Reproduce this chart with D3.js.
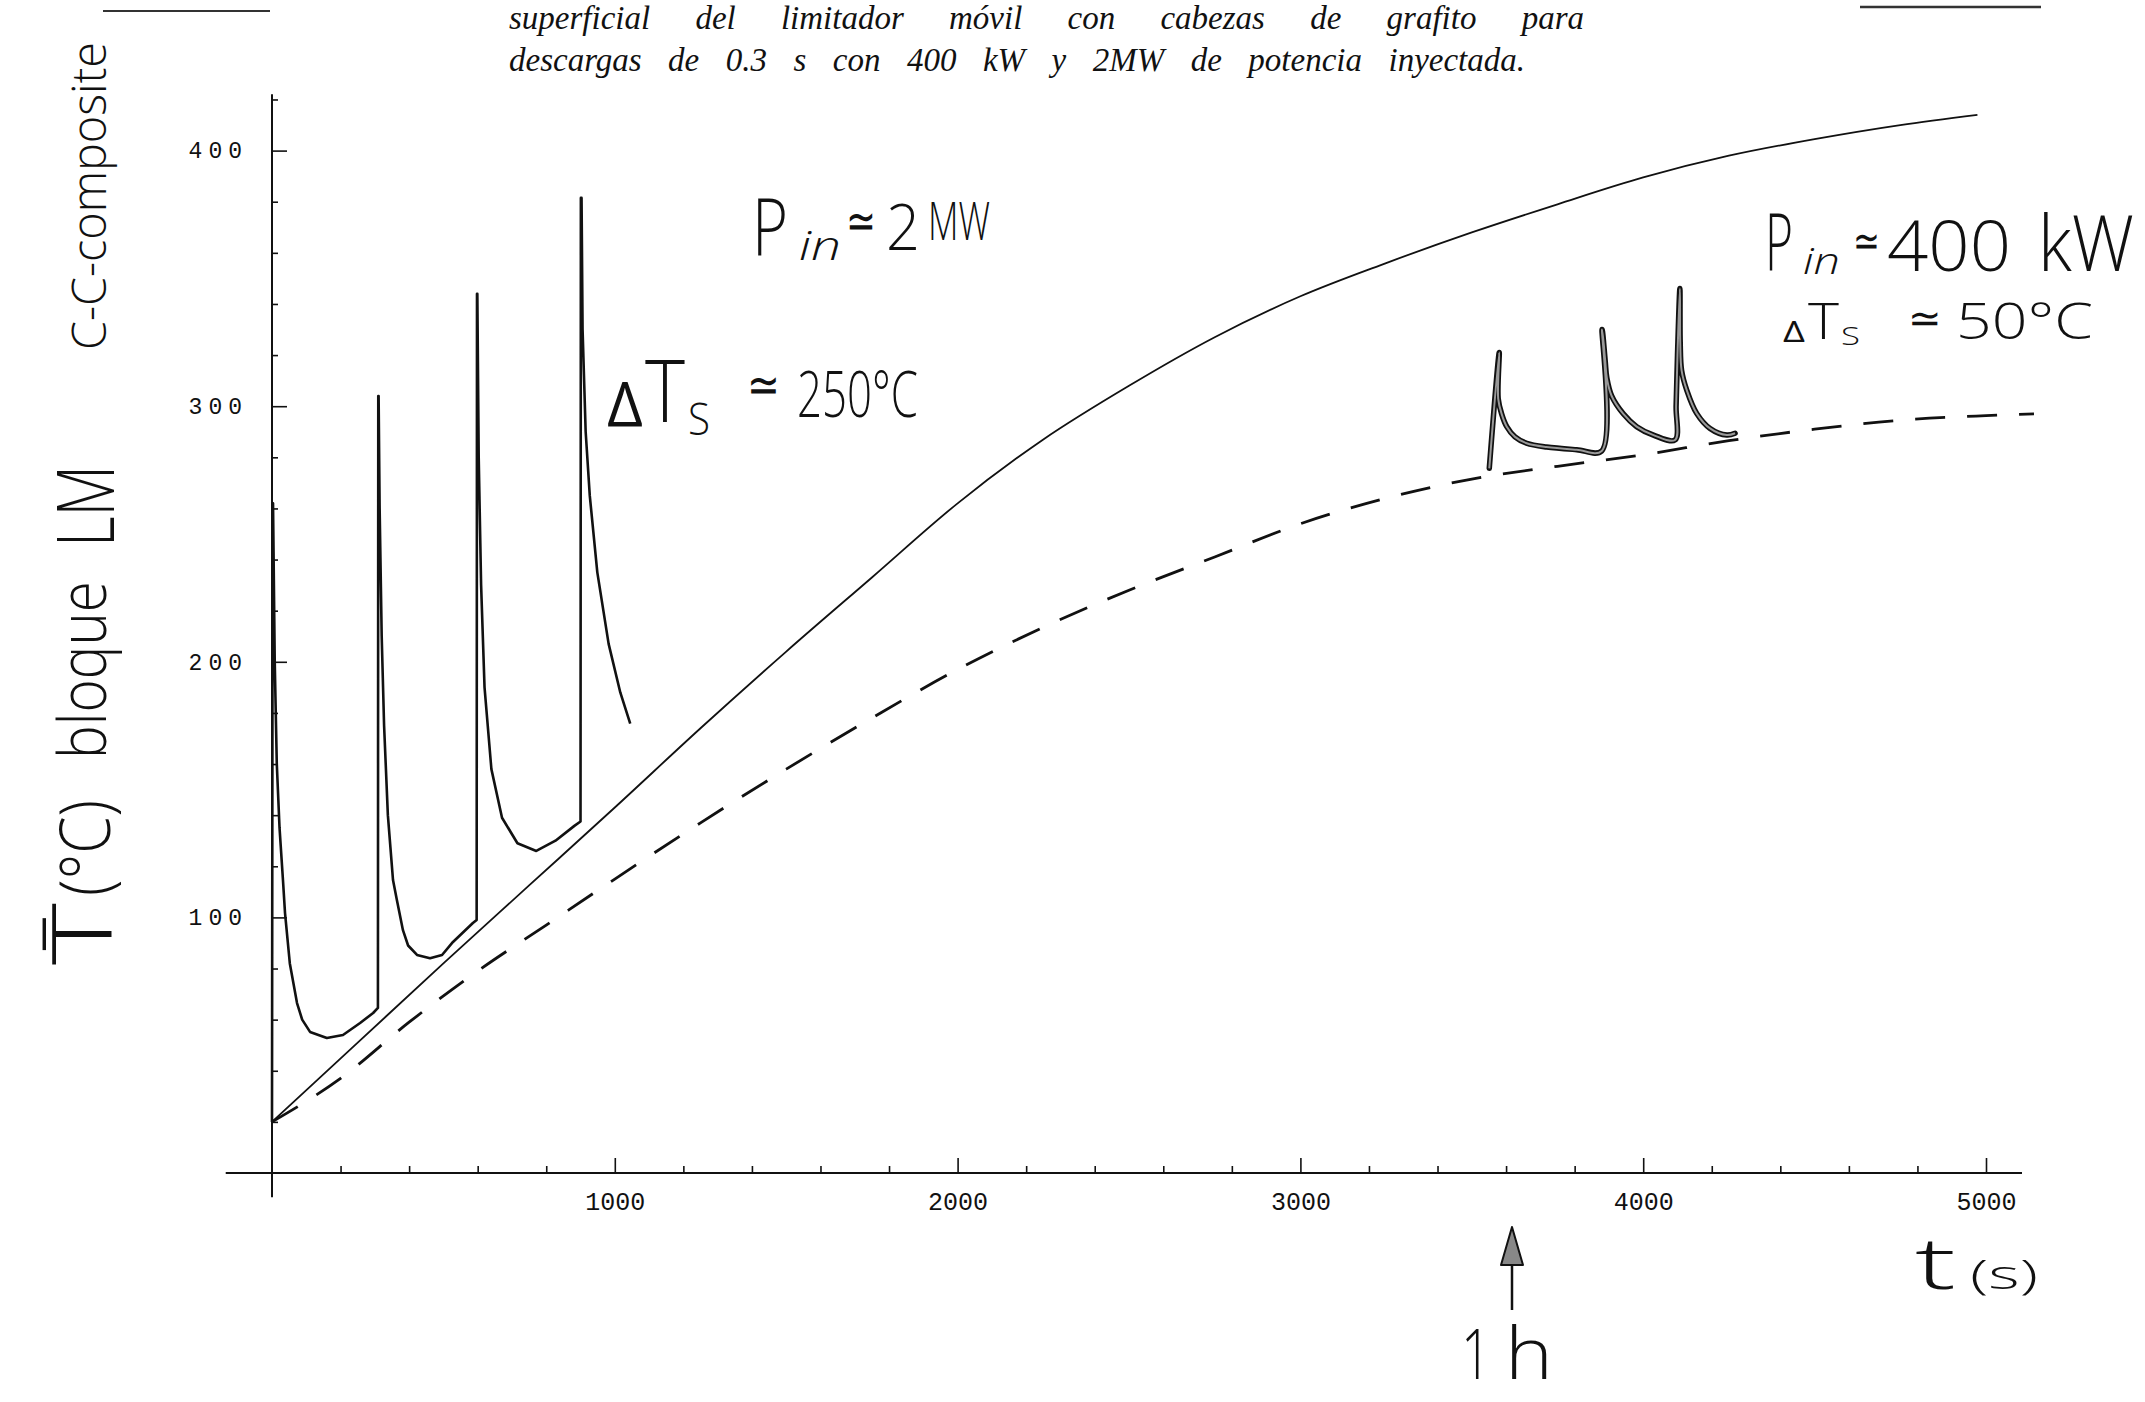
<!DOCTYPE html>
<html><head><meta charset="utf-8">
<script src="https://cdn.jsdelivr.net/npm/d3@7"></script>
<style>body{margin:0;background:#fff} svg{display:block;background:#fff}</style>
</head><body><svg id="chart" width="2145" height="1402"></svg>
<script>
// ---------- data ----------
const titleLines = [
  "superficial del limitador móvil con cabezas de grafito para",
  "descargas de 0.3 s con 400 kW y 2MW de potencia inyectada."
];
const xTickMajor = [1000, 2000, 3000, 4000, 5000];
const yTickMajor = [100, 200, 300, 400];

// smooth average-temperature curve (solid)
const solidT = [0, 250, 500, 750, 1000, 1250, 1500, 1750, 2000, 2250, 2500, 2750, 3000, 3250, 3500, 3750, 4000, 4250, 4500, 4750, 4975];
const solidV = [20, 51, 82, 112.5, 143, 174, 204, 233, 262, 287, 308, 327, 343, 356, 368, 379, 389.5, 398, 404.5, 410, 414];

// dashed curve
const dashT = [0, 200, 400, 600, 800, 1000, 1250, 1500, 1750, 2000, 2250, 2500, 2750, 3000, 3250, 3500, 3750, 4000, 4250, 4500, 4750, 5000, 5140];
const dashV = [20, 37, 59, 79, 97, 115, 137, 158, 178, 197, 213.5, 228, 241, 254, 264, 271.5, 276.5, 281, 286.5, 291, 294.5, 296.3, 297];

// surface temperature, 2 MW discharges (spiky curve)
const spikeT = [0, 2, 3, 8, 14, 22, 32, 38, 52, 73, 88, 111, 160, 207, 257, 295, 309,
  310, 311, 314, 320, 327, 338, 353, 364, 382, 397, 423, 461, 496, 528, 586, 597,
  598, 599, 603, 610, 620, 640, 671, 716, 771, 827, 882, 900,
  901, 903, 906, 915, 927, 949, 982, 1016, 1045];
const spikeV = [20, 262, 262, 200, 160, 135, 114.6, 101.7, 82, 66.5, 60, 55.2, 52.8, 54, 58.7, 62.6, 64.6,
  304, 304, 260, 210, 175, 140, 114.6, 107, 95, 89, 85.3, 84, 85.3, 90.4, 97.8, 99,
  344, 344, 280, 230, 190, 158, 139, 129, 126, 130, 135.8, 137.5,
  381.5, 381.5, 330, 290, 265, 235, 207, 188, 175.8];

// surface temperature, 400 kW discharges (hand drawn)
const lowT = [3551, 3580, 3577, 3587, 3602, 3626, 3660, 3718, 3806, 3879,
  3880, 3889, 3894, 3908, 3942, 3981, 4030, 4093,
  4096, 4100, 4107, 4108, 4112, 4127, 4156, 4195, 4244, 4268];
const lowV = [275.7, 321, 303, 297, 292, 288, 285.5, 284, 283, 282.5,
  330, 318, 311, 304, 297, 292, 288.7, 286.8,
  300, 320, 346, 325, 314, 306.3, 297.2, 291.3, 288.7, 289.4];

// ---------- drawing ----------
const svg = d3.select('#chart');
svg.append('rect').attr('width', 2145).attr('height', 1402).attr('fill', '#fff');

const x = d3.scaleLinear().domain([0, 5000]).range([272, 1986]);
const y = d3.scaleLinear().domain([0, 400]).range([1173, 150.6]);

// axes lines
svg.append('line').attr('x1', x(-135)).attr('x2', x(5105)).attr('y1', y(0)).attr('y2', y(0))
  .attr('stroke', '#111').attr('stroke-width', 2);
svg.append('line').attr('x1', x(0)).attr('x2', x(0)).attr('y1', y(422)).attr('y2', y(-9.5))
  .attr('stroke', '#111').attr('stroke-width', 2);

const minorX = d3.range(200, 5001, 200).filter(v => !xTickMajor.includes(v));
const minorY = d3.range(20, 421, 20).filter(v => !yTickMajor.includes(v));

const gxMinor = svg.append('g').attr('transform', `translate(0,${y(0)})`)
  .call(d3.axisBottom(x).tickValues(minorX).tickSize(-7).tickFormat(''));
const gxMajor = svg.append('g').attr('transform', `translate(0,${y(0)})`)
  .call(d3.axisBottom(x).tickValues(xTickMajor).tickSize(-15).tickPadding(19).tickFormat(d3.format('d')));
const gyMinor = svg.append('g').attr('transform', `translate(${x(0)},0)`)
  .call(d3.axisLeft(y).tickValues(minorY).tickSize(-6).tickFormat(''));
const gyMajor = svg.append('g').attr('transform', `translate(${x(0)},0)`)
  .call(d3.axisLeft(y).tickValues(yTickMajor).tickSize(-15).tickPadding(24).tickFormat(d3.format('d')));

[gxMinor, gxMajor, gyMinor, gyMajor].forEach(g => {
  g.select('.domain').remove();
  g.selectAll('.tick line').attr('stroke', '#111').attr('stroke-width', 1.6);
});
gxMajor.selectAll('.tick text').attr('font-family', '"Liberation Mono", "DejaVu Sans Mono", monospace')
  .attr('font-size', 25).attr('fill', '#111');
gyMajor.selectAll('.tick text').attr('font-family', '"Liberation Mono", "DejaVu Sans Mono", monospace')
  .attr('font-size', 23).attr('letter-spacing', 6).attr('fill', '#111');

// curves
const solidData = solidT.map((t, i) => [t, solidV[i]]);
const dashData = dashT.map((t, i) => [t, dashV[i]]);
const spikeData = spikeT.map((t, i) => [t, spikeV[i]]);
const lowData = lowT.map((t, i) => [t, lowV[i]]);

const lineMono = d3.line().x(d => x(d[0])).y(d => y(d[1])).curve(d3.curveMonotoneX);
const lineLin = d3.line().x(d => x(d[0])).y(d => y(d[1])).curve(d3.curveLinear);
const lineCR = d3.line().x(d => x(d[0])).y(d => y(d[1])).curve(d3.curveCatmullRom.alpha(0.5));

svg.append('path').datum(solidData).attr('d', lineMono)
  .attr('fill', 'none').attr('stroke', '#111').attr('stroke-width', 1.8);
svg.append('path').datum(dashData).attr('d', lineMono)
  .attr('fill', 'none').attr('stroke', '#111').attr('stroke-width', 2.8)
  .attr('stroke-dasharray', '30,22');
svg.append('path').datum(spikeData).attr('d', lineLin)
  .attr('fill', 'none').attr('stroke', '#111').attr('stroke-width', 2.6).attr('stroke-linejoin', 'round');
svg.append('path').datum(lowData).attr('d', lineCR)
  .attr('fill', 'none').attr('stroke', '#111').attr('stroke-width', 5.5).attr('stroke-linejoin', 'round').attr('stroke-linecap', 'round');
svg.append('path').datum(lowData).attr('d', lineCR)
  .attr('fill', 'none').attr('stroke', '#999').attr('stroke-width', 2).attr('stroke-linejoin', 'round');

// title text (justified)
const titleSpec = [{x: 509, y: 29, w: 1075}, {x: 509, y: 71, w: 1016}];
titleLines.forEach((s, i) => {
  const sp = titleSpec[i];
  const t = svg.append('text').attr('x', sp.x).attr('y', sp.y).text(s)
    .attr('font-family', '"Liberation Serif", "Times New Roman", serif')
    .attr('font-style', 'italic').attr('font-size', 33).attr('fill', '#111');
  const w = t.node().getComputedTextLength();
  const n = (s.match(/ /g) || []).length;
  t.attr('word-spacing', (sp.w - w) / n);
});

// short rules at top
svg.append('line').attr('x1', 103).attr('x2', 270).attr('y1', 11).attr('y2', 11).attr('stroke', '#333').attr('stroke-width', 2);
svg.append('line').attr('x1', 1860).attr('x2', 2041).attr('y1', 7).attr('y2', 7).attr('stroke', '#333').attr('stroke-width', 2.5);

// handwritten annotations: narrow glyphs via horizontal scaling so boxes match
const HW = '"Open Sans", "DejaVu Sans", sans-serif';
function hw(px, py, str, size, width, opts = {}) {
  const t = svg.append('text').attr('x', 0).attr('y', 0).text(str)
    .attr('font-family', HW).attr('font-weight', opts.weight || 300)
    .attr('font-size', size).attr('fill', '#111');
  if (opts.italic) t.attr('font-style', 'italic');
  const w = t.node().getComputedTextLength();
  const sx = w > 0 ? width / w : 1;
  const rot = opts.rotate ? ' rotate(-90)' : '';
  t.attr('transform', `translate(${px},${py})${rot} scale(${sx},1)`);
  return t;
}
// P_in ≃ 2MW
hw(752, 255, 'P', 80, 36);
hw(799, 260, 'in', 40, 42, {italic: true});
hw(846, 238, '≃', 50, 30);
hw(886, 250, '2', 64, 34);
hw(928, 240, 'MW', 54, 62);
// ΔT_S ≃ 250°C
hw(607, 427, 'Δ', 62, 36, {weight: 400});
hw(645, 422, 'T', 86, 40);
hw(688, 435, 'S', 44, 22);
hw(747, 402, '≃', 50, 33);
hw(797, 417, '250°C', 64, 121);
// P_in ≃ 400 kW
hw(1765, 270, 'P', 80, 28);
hw(1803, 274, 'in', 36, 37, {italic: true});
hw(1853, 256, '≃', 44, 27);
hw(1887, 271, '400', 70, 124);
hw(2038, 271, 'kW', 78, 96);
// ΔT_S ≃ 50°C
hw(1783, 342, 'Δ', 30, 22, {weight: 400});
hw(1808, 339, 'T', 50, 31);
hw(1841, 345, 'S', 26, 19);
hw(1908, 332, '≃', 40, 34);
hw(1956, 339, '50°C', 50, 137);
// t (s)
hw(1915, 1289, 't', 72, 41);
hw(1970, 1289, '(s)', 40, 68);
// 1h
hw(1461, 1379, '1', 70, 30);
hw(1505, 1379, 'h', 72, 48);
// arrow at 1 h
svg.append('line').attr('x1', 1512).attr('x2', 1512).attr('y1', 1310).attr('y2', 1262)
  .attr('stroke', '#111').attr('stroke-width', 2.5);
svg.append('path').attr('d', 'M1512,1227 L1501,1265 L1523,1265 Z')
  .attr('fill', '#888').attr('stroke', '#111').attr('stroke-width', 2).attr('stroke-linejoin', 'round');

// rotated y-axis label (handwritten)
hw(112, 965, 'T̄', 82, 62, {rotate: true});
hw(110, 896, '(°C)', 70, 96, {rotate: true});
hw(106, 759, 'bloque', 66, 178, {rotate: true});
hw(114, 547, 'LM', 80, 82, {rotate: true});
hw(106, 350, 'C-C-composite', 48, 308, {rotate: true});
</script>
</body></html>
